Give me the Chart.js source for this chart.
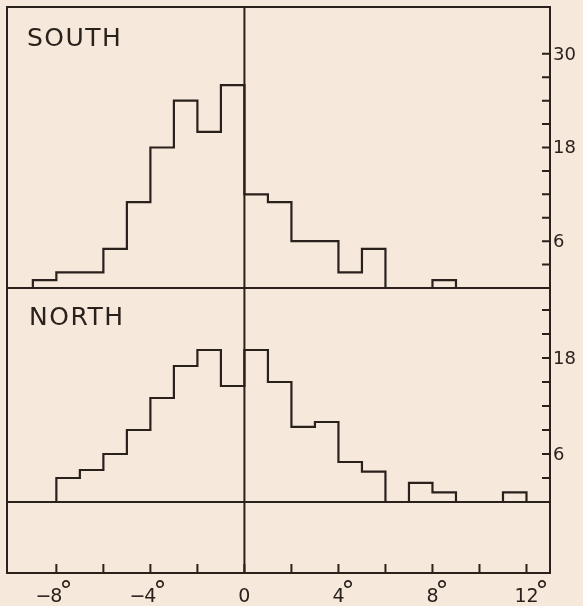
<!DOCTYPE html>
<html>
<head>
<meta charset="utf-8">
<script src="https://cdn.jsdelivr.net/npm/chart.js@4"></script>
<style>
  html, body { margin: 0; padding: 0; background: #f6e9dc; }
  canvas { display: block; }
</style>
</head>
<body>
<canvas id="hist" width="583" height="606"></canvas>
<script>
// 1-degree bins, value = left edge of bin
const binStarts = [-9, -8, -7, -6, -5, -4, -3, -2, -1, 0, 1, 2, 3, 4, 5, 6, 7, 8, 9, 10, 11];
const southCounts = [1, 2, 2, 5, 11, 18, 24, 20, 26, 12, 11, 6, 6, 2, 5, 0, 0, 1, 0, 0, 0];
const northCounts = [0, 3, 4, 6, 9, 13, 17, 19, 14.5, 19, 15, 9.4, 10, 5, 3.8, 0, 2.4, 1.2, 0, 0, 1.2];

const xTickValues = [-8, -6, -4, -2, 0, 2, 4, 6, 8, 10, 12];
const xLabelValues = [-8, -4, 0, 4, 8, 12];
const southTickValues = [3, 6, 9, 12, 15, 18, 21, 24, 27, 30];
const southLabelValues = [6, 18, 30];
const northTickValues = [3, 6, 9, 12, 15, 18, 21, 24];
const northLabelValues = [6, 18];
const panelTitles = ['SOUTH', 'NORTH'];

const INK = '#2a211c';
const PAPER = '#f6e9dc';
const FONT = '"DejaVu Sans", sans-serif';

// outline of a histogram as stepped points, broken where the count is 0
function histPoints(starts, counts) {
  const pts = [];
  let open = false;
  counts.forEach((c, i) => {
    const x0 = starts[i];
    if (c > 0) {
      if (!open) { pts.push({ x: x0, y: 0 }); open = true; }
      pts.push({ x: x0, y: c });
    } else if (open) {
      pts.push({ x: x0, y: 0 });
      pts.push({ x: x0, y: null });
      open = false;
    }
  });
  if (open) pts.push({ x: starts[starts.length - 1] + 1, y: 0 });
  return pts;
}

const inkPlugin = {
  id: 'ink',
  beforeDraw(chart) {
    const { ctx } = chart;
    ctx.save();
    ctx.fillStyle = PAPER;
    ctx.fillRect(0, 0, chart.width, chart.height);
    ctx.restore();
  },
  afterDatasetsDraw(chart) {
    const { ctx, chartArea: a, scales } = chart;
    const x = scales.x, yS = scales.yS, yN = scales.yN;
    ctx.save();
    ctx.strokeStyle = INK;
    ctx.fillStyle = INK;
    ctx.lineWidth = 2;
    ctx.lineCap = 'butt';

    // frame, panel baselines and zero line
    ctx.strokeRect(a.left, a.top, a.right - a.left, a.bottom - a.top);
    ctx.beginPath();
    [yS.getPixelForValue(0), yN.getPixelForValue(0)].forEach(py => {
      ctx.moveTo(a.left, py); ctx.lineTo(a.right, py);
    });
    const x0 = x.getPixelForValue(0);
    ctx.moveTo(x0, a.top); ctx.lineTo(x0, a.bottom);
    ctx.stroke();

    // inward ticks
    ctx.beginPath();
    xTickValues.forEach(v => {
      const px = x.getPixelForValue(v);
      ctx.moveTo(px, a.bottom); ctx.lineTo(px, a.bottom - 9);
    });
    [[yS, southTickValues], [yN, northTickValues]].forEach(([sc, vals]) => {
      vals.forEach(v => {
        const py = sc.getPixelForValue(v);
        ctx.moveTo(a.right, py); ctx.lineTo(a.right - 8, py);
      });
    });
    ctx.stroke();

    // right labels
    ctx.font = '18px ' + FONT;
    ctx.textAlign = 'left';
    ctx.textBaseline = 'middle';
    [[yS, southLabelValues], [yN, northLabelValues]].forEach(([sc, vals]) => {
      vals.forEach(v => ctx.fillText(String(v), a.right + 3, sc.getPixelForValue(v) + 1));
    });

    // bottom labels: digits centred on tick, minus to the left, raised degree
    ctx.textBaseline = 'alphabetic';
    const base = a.bottom + 29;
    xLabelValues.forEach(v => {
      const px = x.getPixelForValue(v);
      const digits = String(Math.abs(v));
      ctx.font = '19px ' + FONT;
      const w = ctx.measureText(digits).width;
      ctx.textAlign = 'center';
      ctx.fillText(digits, px, base);
      if (v < 0) {
        ctx.textAlign = 'right';
        ctx.fillText('\u2212', px - w / 2 + 1, base);
      }
      if (v !== 0) {
        ctx.textAlign = 'left';
        ctx.font = '26px ' + FONT;
        ctx.fillText('\u00b0', px + w / 2 - 3, base - 2);
      }
    });

    // panel titles
    ctx.font = '25px ' + FONT;
    ctx.textAlign = 'left';
    ctx.letterSpacing = '1.5px';
    ctx.fillText(panelTitles[0], a.left + 20, yS.getPixelForValue(yS.max) + 39);
    ctx.fillText(panelTitles[1], a.left + 22, yN.getPixelForValue(yN.max) + 37);
    ctx.restore();
  }
};

const lineStyle = {
  borderColor: INK,
  borderWidth: 2.2,
  pointRadius: 0,
  fill: false,
  stepped: 'before',
  spanGaps: false,
  borderJoinStyle: 'miter'
};

new Chart(document.getElementById('hist'), {
  type: 'line',
  data: {
    datasets: [
      { label: panelTitles[0], data: histPoints(binStarts, southCounts), yAxisID: 'yS', ...lineStyle },
      { label: panelTitles[1], data: histPoints(binStarts, northCounts), yAxisID: 'yN', ...lineStyle }
    ]
  },
  options: {
    responsive: false,
    animation: false,
    devicePixelRatio: 1,
    layout: { padding: { left: 7, top: 7, right: 33, bottom: 33 } },
    scales: {
      x: { type: 'linear', min: -10.1, max: 13, display: false },
      yS: { type: 'linear', position: 'right', stack: 'hemi', stackWeight: 281, min: 0, max: 36, display: false },
      yN: { type: 'linear', position: 'right', stack: 'hemi', stackWeight: 214, min: 0, max: 26.75, display: false },
      yB: { type: 'linear', position: 'right', stack: 'hemi', stackWeight: 71, min: 0, max: 1, display: false }
    },
    plugins: {
      legend: { display: false },
      tooltip: { enabled: false }
    }
  },
  plugins: [inkPlugin]
});
</script>
</body>
</html>
